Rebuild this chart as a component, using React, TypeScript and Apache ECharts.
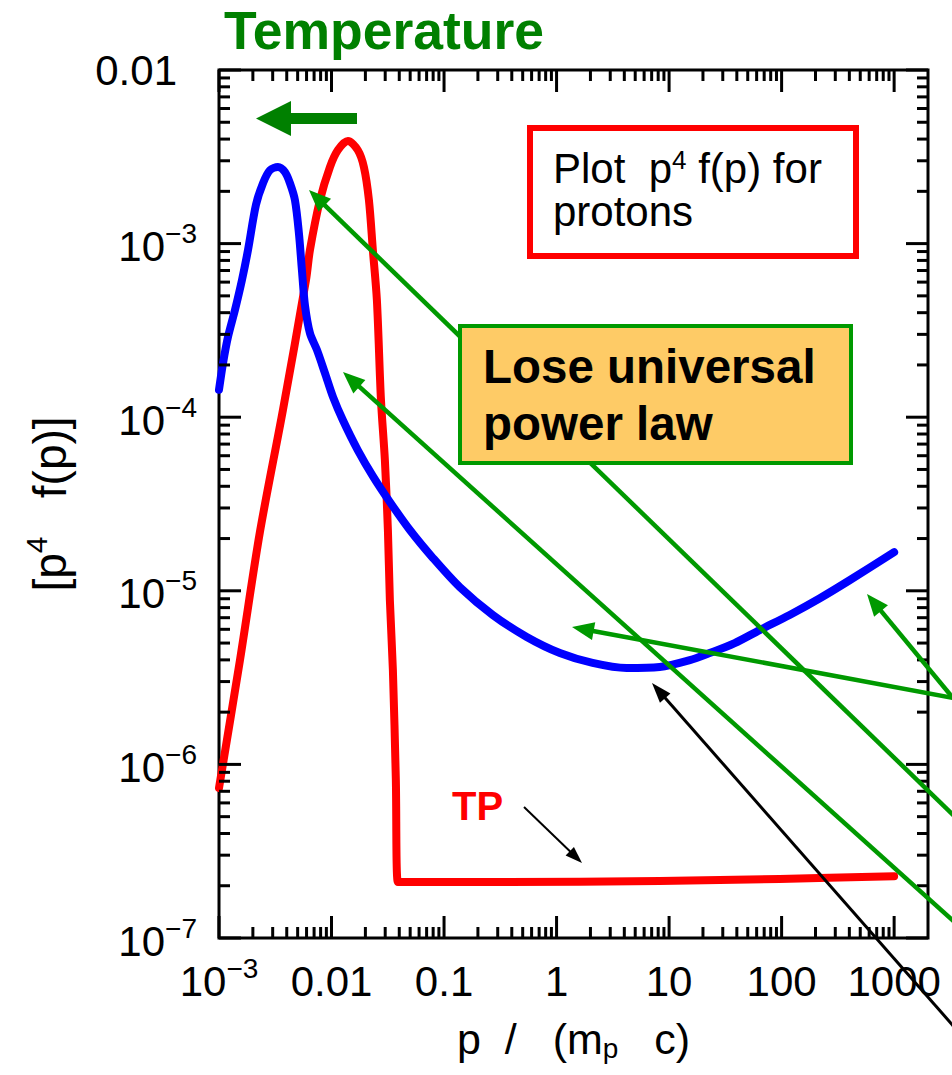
import { useEffect, useRef } from 'react';
import * as echarts from 'echarts';

const X_MIN = 1e-3;
const X_MAX = 2000;
const Y_MIN = 1e-7;
const Y_MAX = 1e-2;

const xTickValues = [1e-3, 1e-2, 1e-1, 1, 10, 100, 1000];
const xTickLabels = ['10^−3', '0.01', '0.1', '1', '10', '100', '1000'];
const yTickValues = [1e-7, 1e-6, 1e-5, 1e-4, 1e-3, 1e-2];
const yTickLabels = ['10^−7', '10^−6', '10^−5', '10^−4', '10^−3', '0.01'];

// blue curve: p / (m_p c)  and  p^4 f(p)
const blueP = [
  1e-3, 1.086e-3, 1.202e-3, 1.387e-3, 1.6e-3, 1.81e-3, 2.13e-3, 2.46e-3, 2.84e-3, 3.34e-3,
  3.86e-3, 4.27e-3, 4.73e-3, 5.13e-3, 5.46e-3, 5.81e-3, 6.43e-3, 7.42e-3, 8.73e-3, 1.03e-2,
  1.26e-2, 1.71e-2, 2.33e-2, 3.3e-2, 4.97e-2, 7.94e-2, 0.138, 0.271, 0.543, 1.07,
  2.09, 4.2, 8.24, 15.3, 22.9, 38.3, 63.8, 118, 217, 402, 1000,
];
const blueF = [
  1.44e-4, 2.05e-4, 2.9e-4, 4.15e-4, 6.17e-4, 9.18e-4, 1.67e-3, 2.23e-3, 2.65e-3, 2.76e-3,
  2.58e-3, 2.23e-3, 1.78e-3, 1.15e-3, 7.0e-4, 4.4e-4, 3.05e-4, 2.44e-4, 1.8e-4, 1.31e-4,
  9.64e-5, 6.47e-5, 4.58e-5, 3.25e-5, 2.24e-5, 1.55e-5, 1.05e-5, 7.26e-6, 5.42e-6, 4.38e-6,
  3.84e-6, 3.59e-6, 3.64e-6, 3.99e-6, 4.38e-6, 5.0e-6, 5.94e-6, 7.26e-6, 9.03e-6, 1.15e-5, 1.67e-5,
];

// red curve (TP)
const redP = [
  1e-3, 1.536e-3, 2.31e-3, 3.7e-3, 5.93e-3, 6.43e-3, 7.89e-3, 9.68e-3, 1.14e-2, 1.4e-2,
  1.71e-2, 1.94e-2, 2.15e-2, 2.33e-2, 2.53e-2, 2.75e-2, 2.98e-2, 3.17e-2, 3.3e-2, 3.51e-2,
  3.73e-2, 3.89e-2, 0.313, 8.24, 95.9, 1000,
];
const redF = [
  7.31e-7, 3.99e-6, 2.18e-5, 1.1e-4, 6.17e-4, 9.18e-4, 1.78e-3, 2.76e-3, 3.46e-3, 3.9e-3,
  3.46e-3, 2.76e-3, 1.78e-3, 9.18e-4, 4.73e-4, 1.26e-4, 5.66e-5, 2.24e-5, 8.85e-6, 3.5e-6,
  8.13e-7, 2.1e-7, 2.1e-7, 2.13e-7, 2.19e-7, 2.27e-7,
];

const FONT = '"Liberation Sans", Arial, Helvetica, sans-serif';
const GREEN = '#009900';
const DARK_GREEN = '#008000';

function richLabel(s: string, plainStyle = 'b') {
  const i = s.indexOf('^');
  if (i < 0) return `{${plainStyle}|${s}}`;
  return `{b|${s.slice(0, i)}}{s|${s.slice(i + 1)}}`;
}

function labelFor(values: number[], labels: string[], v: number, plainStyle?: (s: string) => string) {
  const e = Math.log10(v);
  const k = Math.round(e);
  if (Math.abs(e - k) > 1e-6) return '';
  const idx = values.findIndex((t) => Math.abs(Math.log10(t) - k) < 1e-6);
  if (idx < 0) return '';
  const s = labels[idx];
  return richLabel(s, plainStyle ? plainStyle(s) : 'b');
}

function arrow(x1: number, y1: number, x2: number, y2: number, color: string, width: number, headLen: number, headHalf: number) {
  const dx = x2 - x1;
  const dy = y2 - y1;
  const L = Math.hypot(dx, dy);
  const ux = dx / L;
  const uy = dy / L;
  const bx = x2 - ux * headLen;
  const by = y2 - uy * headLen;
  const px = -uy;
  const py = ux;
  return [
    { type: 'line', z: 100, silent: true, shape: { x1, y1, x2: bx + ux * 2, y2: by + uy * 2 }, style: { stroke: color, lineWidth: width } },
    {
      type: 'polygon', z: 100, silent: true,
      shape: { points: [[x2, y2], [bx + px * headHalf, by + py * headHalf], [bx - px * headHalf, by - py * headHalf]] },
      style: { fill: color },
    },
  ];
}

export default function App() {
  const ref = useRef<HTMLDivElement>(null);
  useEffect(() => {
    document.body.style.margin = '0';
    if (!ref.current) return;
    const chart = echarts.init(ref.current, undefined, { renderer: 'svg' });

    const decadesX = [-3, -2, -1, 0, 1, 2, 3];
    const xTickData: number[][] = [];
    decadesX.forEach((k) => {
      for (let m = 1; m <= 9; m++) {
        const v = m * Math.pow(10, k);
        if (v < X_MAX * 0.999) xTickData.push([v, Y_MIN, m === 1 ? 1 : 0]);
      }
    });
    const decadesY = [-7, -6, -5, -4, -3, -2];
    const yTickData: number[][] = [];
    decadesY.forEach((k) => {
      for (let m = 1; m <= 9; m++) {
        const v = m * Math.pow(10, k);
        if (v <= Y_MAX * 1.0001) yTickData.push([X_MIN, v, m === 1 ? 1 : 0]);
      }
    });

    const tickStyle = { stroke: '#000', lineWidth: 3 };
    const labelRich = {
      b: { fontSize: 42, lineHeight: 48, fontFamily: FONT, color: '#000', verticalAlign: 'bottom' },
      s: { fontSize: 28, lineHeight: 14, fontFamily: FONT, color: '#000', verticalAlign: 'top' },
      bp: { fontSize: 42, lineHeight: 48, fontFamily: FONT, color: '#000', padding: [0, 20, 0, 0] },
    };

    const graphics: any[] = [
      {
        type: 'text', z: 100, silent: true,
        style: { text: 'Temperature', x: 224, y: 30, font: `bold 53.5px ${FONT}`, fill: DARK_GREEN, verticalAlign: 'middle', textVerticalAlign: 'middle' },
      },
      {
        type: 'polygon', z: 100, silent: true,
        shape: { points: [[357, 113], [291, 113], [291, 101], [256, 118.5], [291, 136], [291, 124], [357, 124]] },
        style: { fill: DARK_GREEN },
      },
      {
        type: 'rect', z: 100, silent: true,
        shape: { x: 530, y: 128, width: 326, height: 128 },
        style: { fill: '#fff', stroke: '#FF0000', lineWidth: 6 },
      },
      {
        type: 'text', z: 101, silent: true,
        style: {
          text: '{n|Plot  p}{s|4}{n| f(p) for}\n{n|protons}',
          x: 553, y: 147, verticalAlign: 'top', textVerticalAlign: 'top',
          rich: {
            n: { fontSize: 42, lineHeight: 43, fontFamily: FONT, fill: '#000', color: '#000' },
            s: { fontSize: 26, lineHeight: 30, fontFamily: FONT, fill: '#000', color: '#000', verticalAlign: 'top' },
          },
        },
      },
      ...arrow(980, 841, 309, 190, GREEN, 4.5, 22, 9),
      ...arrow(990, 954, 343, 372, GREEN, 4.5, 22, 9),
      ...arrow(953, 698, 572, 627, GREEN, 4.5, 22, 9),
      ...arrow(953, 698, 867, 594, GREEN, 4.5, 22, 9),
      ...arrow(985, 1062, 652, 683, '#000', 3, 20, 7),
      ...arrow(524, 807, 582, 863, '#000', 2, 17, 6),
      {
        type: 'rect', z: 102, silent: true,
        shape: { x: 460, y: 326, width: 391, height: 137 },
        style: { fill: '#FECB66', stroke: GREEN, lineWidth: 4 },
      },
      {
        type: 'text', z: 103, silent: true,
        style: {
          text: 'Lose universal\npower law', x: 483, y: 338,
          font: `bold 47.5px ${FONT}`, lineHeight: 57, fill: '#000',
          verticalAlign: 'top', textVerticalAlign: 'top',
        },
      },
      {
        type: 'text', z: 100, silent: true,
        style: { text: 'TP', x: 452, y: 806, font: `bold 40px ${FONT}`, fill: '#FF0000', verticalAlign: 'middle', textVerticalAlign: 'middle' },
      },
    ];

    chart.setOption({
      animation: false,
      backgroundColor: '#fff',
      grid: {
        left: 219, right: 24, top: 70, bottom: 137,
        show: true, borderColor: '#000', borderWidth: 3, backgroundColor: 'transparent',
        outerBoundsMode: 'none',
      },
      xAxis: {
        type: 'log', logBase: 10, min: X_MIN, max: X_MAX, splitNumber: 10,
        axisLine: { show: false }, axisTick: { show: false }, splitLine: { show: false }, minorTick: { show: false },
        axisLabel: {
          margin: 16, fontSize: 42, fontFamily: FONT, color: '#000', showMaxLabel: false,
          formatter: (v: number) => labelFor(xTickValues, xTickLabels, v),
          rich: labelRich,
        },
        name: '{n|p  /   (m}{sub|p}{n|   c)}',
        nameLocation: 'middle', nameGap: 78,
        nameTextStyle: {
          fontSize: 43, fontFamily: FONT, color: '#000',
          rich: {
            n: { fontSize: 43, lineHeight: 46, fontFamily: FONT, color: '#000' },
            sub: { fontSize: 28, lineHeight: 16, fontFamily: FONT, color: '#000', verticalAlign: 'bottom' },
          },
        },
      },
      yAxis: {
        type: 'log', logBase: 10, min: Y_MIN, max: Y_MAX, splitNumber: 10,
        axisLine: { show: false }, axisTick: { show: false }, splitLine: { show: false }, minorTick: { show: false },
        axisLabel: {
          margin: 22, fontSize: 42, fontFamily: FONT, color: '#000',
          formatter: (v: number) => labelFor(yTickValues, yTickLabels, v, (s) => (s === '0.01' ? 'bp' : 'b')),
          rich: labelRich,
        },
        name: '{n|[p}{sup|4}{n|   f(p)]}',
        nameLocation: 'middle', nameRotate: 90, nameGap: 146,
        nameTextStyle: {
          fontSize: 46, fontFamily: FONT, color: '#000',
          rich: {
            n: { fontSize: 46, lineHeight: 52, fontFamily: FONT, color: '#000', verticalAlign: 'bottom' },
            sup: { fontSize: 30, lineHeight: 16, fontFamily: FONT, color: '#000', verticalAlign: 'top' },
          },
        },
      },
      series: [
        {
          name: 'TP', type: 'line', data: redP.map((p, i) => [p, redF[i]]),
          showSymbol: false, symbol: 'none', clip: false, z: 3, silent: true, smooth: 0.3,
          lineStyle: { color: '#FF0000', width: 8, cap: 'round', join: 'round' },
        },
        {
          name: 'blue', type: 'line', data: blueP.map((p, i) => [p, blueF[i]]),
          showSymbol: false, symbol: 'none', clip: false, z: 4, silent: true, smooth: 0.3,
          lineStyle: { color: '#0000FF', width: 8, cap: 'round', join: 'round' },
        },
        {
          type: 'custom', data: xTickData, encode: { x: 0, y: 1 }, silent: true, z: 5, clip: false,
          renderItem: (_p: any, api: any) => {
            const v = api.value(0);
            const len = api.value(2) === 1 ? 22 : 11;
            const b = api.coord([v, Y_MIN]);
            const t = api.coord([v, Y_MAX]);
            return {
              type: 'group',
              children: [
                { type: 'line', shape: { x1: b[0], y1: b[1], x2: b[0], y2: b[1] - len }, style: tickStyle },
                { type: 'line', shape: { x1: t[0], y1: t[1], x2: t[0], y2: t[1] + len }, style: tickStyle },
              ],
            };
          },
        },
        {
          type: 'custom', data: yTickData, encode: { x: 0, y: 1 }, silent: true, z: 5, clip: false,
          renderItem: (_p: any, api: any) => {
            const v = api.value(1);
            const len = api.value(2) === 1 ? 22 : 11;
            const l = api.coord([X_MIN, v]);
            const r = api.coord([X_MAX, v]);
            return {
              type: 'group',
              children: [
                { type: 'line', shape: { x1: l[0], y1: l[1], x2: l[0] + len, y2: l[1] }, style: tickStyle },
                { type: 'line', shape: { x1: r[0], y1: r[1], x2: r[0] - len, y2: r[1] }, style: tickStyle },
              ],
            };
          },
        },
      ],
      graphic: { elements: graphics },
    });
    return () => chart.dispose();
  }, []);
  return <div ref={ref} style={{ width: 952, height: 1075 }} />;
}
